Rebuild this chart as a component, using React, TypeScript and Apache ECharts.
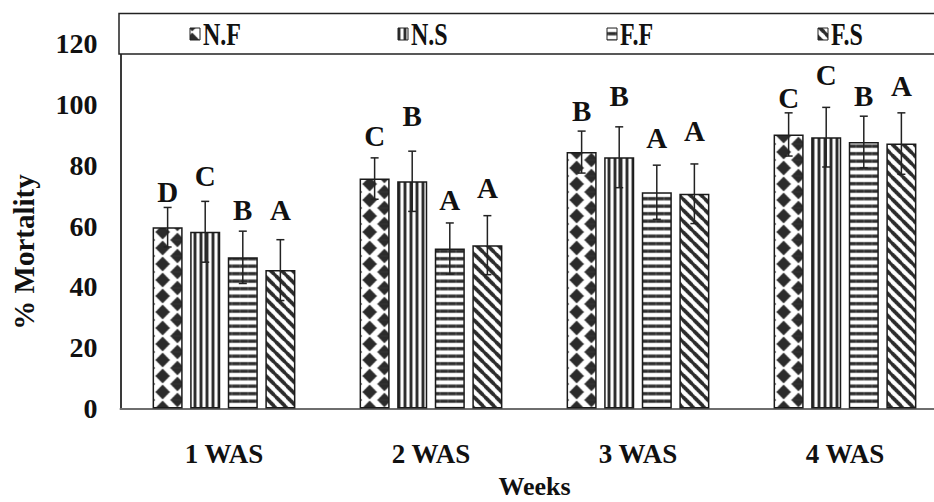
import React, { useEffect, useRef } from 'react';
import * as echarts from 'echarts';

const categories = ['1 WAS', '2 WAS', '3 WAS', '4 WAS'];
const seriesNames = ['N.F', 'N.S', 'F.F', 'F.S'];

const nfValues = [59.6, 75.6, 84.3, 90.1];
const nsValues = [58.1, 74.7, 82.6, 89.2];
const ffValues = [49.7, 52.6, 71.1, 87.6];
const fsValues = [45.5, 53.7, 70.6, 87.1];

const nfErrors = [6.5, 6.8, 6.9, 7.1];
const nsErrors = [10, 9.9, 10, 9.8];
const ffErrors = [8.6, 8.4, 8.9, 8.5];
const fsErrors = [10, 9.7, 9.8, 10.1];

const nfLetters = ['D', 'C', 'B', 'C'];
const nsLetters = ['C', 'B', 'B', 'C'];
const ffLetters = ['B', 'A', 'A', 'B'];
const fsLetters = ['A', 'A', 'A', 'A'];

const nfLetterY = [71.3, 89.5, 97.7, 102.1];
const nsLetterY = [76.4, 96.1, 102.6, 109.8];
const ffLetterY = [65.1, 68.7, 89.0, 102.9];
const fsLetterY = [65.1, 72.6, 91.2, 106.0];

const yMin = 0;
const yMax = 120;
const yStep = 20;

const FONT = "'Liberation Serif', 'Times New Roman', serif";
const DARK = '#2b2b2b';
const BAR_CAT_GAP = 0.31;
const BAR_GAP = 0.25;

function makeCanvas(w: number, h: number, draw: (ctx: CanvasRenderingContext2D) => void) {
  const s = 3;
  const c = document.createElement('canvas');
  c.width = Math.round(w * s);
  c.height = Math.round(h * s);
  const ctx = c.getContext('2d')!;
  ctx.scale(c.width / w, c.height / h);
  ctx.fillStyle = '#ffffff';
  ctx.fillRect(0, 0, w, h);
  ctx.fillStyle = DARK;
  ctx.strokeStyle = DARK;
  draw(ctx);
  return c;
}

function buildPatterns() {
  const dw = 207 / 7;
  const dh = 16;
  const diamond = makeCanvas(dw, dh, (ctx) => {
    const pts = [
      [0, 0], [dw, 0], [0, dh], [dw, dh], [dw / 2, dh / 2],
    ];
    const rx = 7.2, ry = 7.4;
    pts.forEach(([x, y]) => {
      ctx.beginPath();
      ctx.moveTo(x - rx, y);
      ctx.lineTo(x, y - ry);
      ctx.lineTo(x + rx, y);
      ctx.lineTo(x, y + ry);
      ctx.closePath();
      ctx.fill();
    });
  });
  const vw = 6;
  const vert = makeCanvas(vw, 6, (ctx) => {
    ctx.fillRect(1.6, 0, 2.8, 6);
  });
  const hh = 7.5;
  const horiz = makeCanvas(8, hh, (ctx) => {
    ctx.fillRect(0, 2.2, 8, 3);
  });
  const dg = 11;
  const diag = makeCanvas(dg, dg, (ctx) => {
    ctx.lineWidth = 3.6;
    for (let k = -1; k <= 1; k++) {
      ctx.beginPath();
      ctx.moveTo(k * dg - 2, -2);
      ctx.lineTo(k * dg + dg + 2, dg + 2);
      ctx.stroke();
    }
  });
  return [
    { image: diamond, repeat: 'repeat', imageWidth: dw, imageHeight: dh, x: 152.6 % dw, y: 0 },
    { image: vert, repeat: 'repeat', imageWidth: vw, imageHeight: 6 },
    { image: horiz, repeat: 'repeat', imageWidth: 8, imageHeight: hh },
    { image: diag, repeat: 'repeat', imageWidth: dg, imageHeight: dg },
  ];
}

export default function App() {
  const ref = useRef<HTMLDivElement>(null);

  useEffect(() => {
    if (!ref.current) return;
    const chart = echarts.init(ref.current, null, { renderer: 'svg' });
    const patterns = buildPatterns();

    const values = [nfValues, nsValues, ffValues, fsValues];
    const errors = [nfErrors, nsErrors, ffErrors, fsErrors];
    const letters = [nfLetters, nsLetters, ffLetters, fsLetters];
    const letterYs = [nfLetterY, nsLetterY, ffLetterY, fsLetterY];

    const errData: number[][] = [];
    const errLetters: string[] = [];
    for (let s = 0; s < 4; s++) {
      for (let c = 0; c < categories.length; c++) {
        errData.push([c, s, values[s][c], errors[s][c], letterYs[s][c]]);
        errLetters.push(letters[s][c]);
      }
    }

    const barSeries = seriesNames.map((name, i) => ({
      name,
      type: 'bar',
      data: values[i],
      barGap: BAR_GAP * 100 + '%',
      barCategoryGap: BAR_CAT_GAP * 100 + '%',
      itemStyle: {
        color: patterns[i],
        borderColor: '#1a1a1a',
        borderWidth: 1.5,
      },
      z: 2,
    }));

    // legend drawn inside the framed box
    const legendLefts = [190, 398, 607, 818];
    const legendGraphics: any[] = [];
    seriesNames.forEach((name, i) => {
      legendGraphics.push({
        type: 'rect',
        z: 6,
        shape: { x: legendLefts[i], y: 28, width: 10, height: 12 },
        style: { fill: patterns[i], stroke: '#222', lineWidth: 1 },
      });
      legendGraphics.push({
        type: 'text',
        z: 6,
        x: legendLefts[i] + 13,
        y: 34.5,
        scaleY: 1.3,
        style: {
          text: name,
          fontFamily: FONT,
          fontWeight: 'bold',
          fontSize: 24,
          fill: '#111',
          align: 'left',
          verticalAlign: 'middle',
        },
      });
    });

    chart.setOption({
      animation: false,
      backgroundColor: '#ffffff',
      grid: {
        left: 120.5,
        right: -14.5,
        top: 43.5,
        bottom: 93.5,
        containLabel: false,
        outerBoundsMode: 'none',
      },
      legend: { show: false, data: seriesNames },
      xAxis: {
        type: 'category',
        data: categories,
        axisLine: { show: true, lineStyle: { color: '#6e6e6e', width: 2 } },
        axisTick: { show: false },
        axisLabel: {
          fontFamily: FONT,
          fontWeight: 'bold',
          fontSize: 27,
          color: '#111',
          margin: 32,
        },
        name: 'Weeks',
        nameLocation: 'middle',
        nameGap: 65,
        nameTextStyle: {
          fontFamily: FONT,
          fontWeight: 'bold',
          fontSize: 26,
          lineHeight: 26,
          color: '#111',
        },
      },
      yAxis: {
        type: 'value',
        min: yMin,
        max: yMax,
        interval: yStep,
        splitLine: { show: false },
        axisLine: { show: true, lineStyle: { color: '#3a3a3a', width: 2 } },
        axisTick: { show: false },
        axisLabel: {
          fontFamily: FONT,
          fontWeight: 'bold',
          fontSize: 28,
          color: '#111',
          margin: 23,
        },
      },
      graphic: [
        {
          type: 'rect',
          z: 5,
          shape: { x: 119, y: 13.5, width: 830, height: 40.5 },
          style: { fill: '#ffffff', stroke: '#222', lineWidth: 1.5 },
        },
        ...legendGraphics,
        {
          type: 'text',
          z: 5,
          x: 24,
          y: 252,
          rotation: Math.PI / 2,
          style: {
            text: '% Mortality',
            fontFamily: FONT,
            fontWeight: 'bold',
            fontSize: 29,
            fill: '#111',
            align: 'center',
            verticalAlign: 'middle',
          },
        },
      ],
      series: [
        ...barSeries,
        {
          type: 'custom',
          name: 'errors',
          data: errData,
          encode: { x: 0, y: 2 },
          z: 4,
          clip: false,
          silent: true,
          renderItem: (params: any, api: any) => {
            const c = api.value(0);
            const s = api.value(1);
            const v = api.value(2);
            const e = api.value(3);
            const ly = api.value(4);
            const band = api.size([1, 0])[0];
            const bw = (band * (1 - BAR_CAT_GAP)) / (4 + 3 * BAR_GAP);
            const groupW = bw * 4 + bw * BAR_GAP * 3;
            const cx = api.coord([c, 0])[0] - groupW / 2 + s * bw * (1 + BAR_GAP) + bw / 2;
            const yTop = api.coord([c, v + e])[1];
            const yBot = api.coord([c, v - e])[1];
            const yL = api.coord([c, ly])[1];
            const cap = 4;
            const ls = { stroke: '#222', lineWidth: 1.5 };
            return {
              type: 'group',
              children: [
                { type: 'line', shape: { x1: cx, y1: yTop, x2: cx, y2: yBot }, style: ls },
                { type: 'line', shape: { x1: cx - cap, y1: yTop, x2: cx + cap, y2: yTop }, style: ls },
                { type: 'line', shape: { x1: cx - cap, y1: yBot, x2: cx + cap, y2: yBot }, style: ls },
                {
                  type: 'text',
                  style: {
                    text: errLetters[params.dataIndex],
                    x: cx,
                    y: yL,
                    fontFamily: FONT,
                    fontWeight: 'bold',
                    fontSize: 29,
                    fill: '#111',
                    align: 'center',
                    verticalAlign: 'middle',
                  },
                },
              ],
            };
          },
        },
      ],
    });

    return () => chart.dispose();
  }, []);

  return (
    <div
      ref={ref}
      style={{ position: 'absolute', left: 0, top: 0, width: 934, height: 502 }}
    />
  );
}
